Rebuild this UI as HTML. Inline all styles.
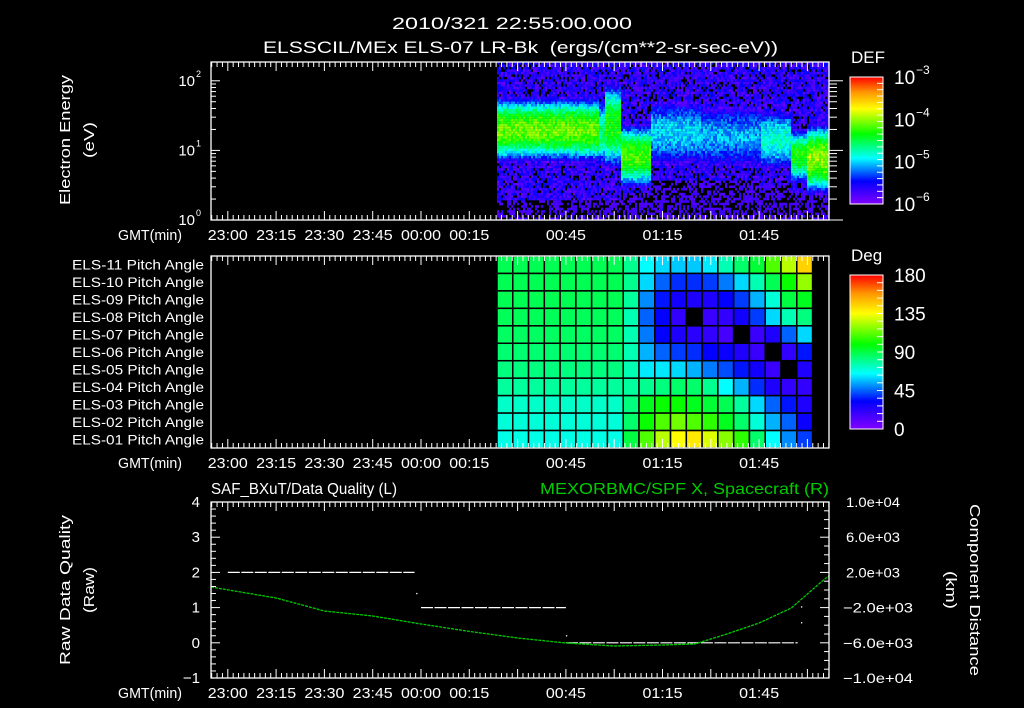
<!DOCTYPE html>
<html><head><meta charset="utf-8"><style>
html,body{margin:0;padding:0;background:#000;}
svg{display:block;font-family:"Liberation Sans",sans-serif;}
text{fill:#fff;}
</style></head><body>
<svg id="s" width="1024" height="708" viewBox="0 0 1024 708" xmlns="http://www.w3.org/2000/svg">
<rect width="1024" height="708" fill="#000"/>
<text x="392" y="29" font-size="17" textLength="240" lengthAdjust="spacingAndGlyphs">2010/321 22:55:00.000</text>
<text x="263" y="53" font-size="17" textLength="515" lengthAdjust="spacingAndGlyphs" xml:space="preserve">ELSSCIL/MEx ELS-07 LR-Bk  (ergs/(cm**2-sr-sec-eV))</text>
<g id="spec"></g>
<g id="pitch"></g>
<g id="bottom"></g>
<g id="axes"></g>
</svg>
<script>
// ---------- data ----------
const timeTickLabels = ["23:00","23:15","23:30","23:45","00:00","00:15","00:45","01:15","01:45"];
const timeTickMinutes = [-60,-45,-30,-15,0,15,45,75,105];
// spectrogram segments
const segStart = [23.6, 54.7, 57.1, 61.8, 71.1, 86.6, 105.3, 114.6, 119.3];
const segCenterLogE = [1.30, 1.25, 1.35, 0.92, 1.25, 1.2, 1.15, 0.92, 0.88];
const segPeakLogDEF = [-4.1, -4.6, -4.3, -4.2, -5.0, -5.1, -4.8, -4.3, -4.0];
const segWidth = [0.36, 0.42, 0.5, 0.36, 0.5, 0.5, 0.42, 0.32, 0.38];
const segFloorLogE = [0.3, 0.3, 0.3, 0.4, 0.55, 0.55, 0.5, 0.4, 0.35];
// pitch angles (deg), rows ELS-11 .. ELS-01, -1 = no data
const pitchRows = ["ELS-11","ELS-10","ELS-09","ELS-08","ELS-07","ELS-06","ELS-05","ELS-04","ELS-03","ELS-02","ELS-01"];
const pitchStart = 23.6, pitchStep = 4.9;
const pitchValues = [
 [88,88,88,88,88,88,88,88,80,65,60,58,58,62,75,85,92,110,125,145],
 [88,88,88,88,88,88,88,88,80,60,45,38,38,40,48,60,75,88,100,120],
 [88,88,88,88,88,88,88,88,78,50,35,28,25,25,32,40,55,70,90,95],
 [87,87,87,87,87,87,87,87,75,45,32,20,-1,18,20,28,40,60,75,82],
 [86,86,86,86,86,86,86,86,75,48,32,25,22,20,15,-1,18,25,45,60],
 [84,84,84,84,84,84,84,84,75,55,45,40,38,32,30,25,18,-1,20,35],
 [82,82,82,82,82,82,82,82,75,62,62,60,55,48,42,35,28,18,-1,25],
 [78,78,78,78,78,78,78,78,78,80,82,85,85,80,65,55,38,25,20,20],
 [72,72,72,72,72,72,72,72,82,95,100,100,95,92,88,78,60,45,35,25],
 [70,70,70,70,70,70,70,70,85,100,110,115,110,105,95,85,70,55,45,30],
 [68,68,68,68,68,68,68,68,90,110,125,135,140,130,118,105,85,65,50,40]
];
// bottom panel
const qualSegStart = [-60, 0, 45];
const qualSegEnd = [-2, 45, 117];
const qualSegValue = [2, 1, 0];
const qualDotMin = [-1.5, 45, 118, 118];
const qualDotVal = [1.4, 0.2, 1.02, 0.57];
const posMinutes = [-65.3,-45,-30,-15,0,15,30,45,60,75,85,95,105,115,125,126.7];
const posKm = [340,-910,-2390,-2950,-3860,-4700,-5450,-6020,-6360,-6250,-6140,-5000,-3750,-2050,1140,1600];

// ---------- helpers ----------
const NS="http://www.w3.org/2000/svg";
const X0=211, X1=829;
function xOf(m){return 421+m*3.22;}
function el(tag,attrs,parent){const e=document.createElementNS(NS,tag);for(const k in attrs)e.setAttribute(k,attrs[k]);parent.appendChild(e);return e;}
const stops=[[0,130,0,255],[0.18,0,0,255],[0.36,0,255,255],[0.55,0,255,0],[0.75,255,255,0],[0.88,255,150,0],[1,255,0,0]];
function cmap(t){t=Math.max(0,Math.min(1,t));for(let i=1;i<stops.length;i++){if(t<=stops[i][0]){const a=stops[i-1],b=stops[i];const f=(t-a[0])/(b[0]-a[0]);return `rgb(${Math.round(a[1]+f*(b[1]-a[1]))},${Math.round(a[2]+f*(b[2]-a[2]))},${Math.round(a[3]+f*(b[3]-a[3]))})`;}}return "rgb(255,0,0)";}
function speckle(i,j){let h=(i*374761393+j*668265263)>>>0;h=((h^(h>>>13))*1274126177)>>>0;return ((h^(h>>>16))>>>0)/4294967296;}
function fit(t,w){t.setAttribute('textLength',w);t.setAttribute('lengthAdjust','spacingAndGlyphs');}

// ---------- spectrogram ----------
const spec=document.getElementById('spec');
const SY0=62, SY1=220, dec=(SY1-SY0)/2.27;
function yE(l){return SY1-l*dec;}
const nb=64, bh=(SY1-SY0)/nb;
for(let xi=497, ci=0; xi<X1; xi+=2, ci++){
  const m=(xi-421)/3.22;
  let s=0; for(let k=0;k<segStart.length;k++) if(m>=segStart[k]) s=k;
  for(let b=0;b<nb;b++){
    const le=(b+0.5)/nb*2.27;
    const r=speckle(ci,b);
    const d=(le-segCenterLogE[s])/segWidth[s];
    let v=segPeakLogDEF[s]-1.0*d*d+(r-0.5)*0.4;
    let bg;
    if(le<segFloorLogE[s]) bg = r<0.5 ? -7 : -5.98+r*0.3;
    else bg = r<0.15 ? -7 : -5.97+r*0.55;
    v=Math.max(v,bg);
    if(v<-6) continue;
    const rc=el('rect',{x:xi,y:(SY1-(b+1)*bh).toFixed(2),width:2.1,height:(bh+0.1).toFixed(2),fill:cmap((v+6)/3)},spec);
    
    
  }
}

// ---------- pitch grid ----------
const pitch=document.getElementById('pitch');
const PY0=256, PY1=448, rh=(PY1-PY0)/pitchRows.length;
pitchValues.forEach((row,r)=>{
  row.forEach((v,c)=>{
    const xa=xOf(pitchStart+c*pitchStep), xb=xOf(pitchStart+(c+1)*pitchStep);
    const rc=el('rect',{x:xa.toFixed(2),y:(PY0+r*rh).toFixed(2),width:(xb-xa).toFixed(2),height:rh.toFixed(2),fill:v<0?'#000':cmap(v/180),stroke:'#000','stroke-width':1.5},pitch);
    
    
  });
  const t=el('text',{x:72,y:(PY0+(r+0.5)*rh+5).toFixed(1),'font-size':14},pitch);
  t.textContent=pitchRows[r]+" Pitch Angle";
  fit(t,132);
  
  
});

// ---------- bottom panel ----------
const bot=document.getElementById('bottom');
const BY0=502, BY1=678;
function yL(v){return BY1-(v+1)*(BY1-BY0)/5;}
function yR(v){return BY1-(v+1e4)*(BY1-BY0)/2e4;}
for(let i=0;i<qualSegStart.length;i++){
  const l=el('line',{x1:xOf(qualSegStart[i]),x2:xOf(qualSegEnd[i]),y1:yL(qualSegValue[i]),y2:yL(qualSegValue[i]),stroke:'#fff','stroke-width':1.2,'stroke-dasharray':'12 1.5'},bot);
  
  
}
for(let i=0;i<qualDotMin.length;i++){
  const d=el('rect',{x:xOf(qualDotMin[i]),y:yL(qualDotVal[i])-0.6,width:1.3,height:1.3,fill:'#fff'},bot);
  
  
}
const pl=el('polyline',{points:posMinutes.map((m,i)=>Math.max(X0,xOf(m)).toFixed(1)+","+yR(posKm[i]).toFixed(1)).join(" "),fill:'none',stroke:'#0c0','stroke-width':1.3,'stroke-dasharray':'3 1'},bot);



// ---------- axes ----------
const ax=document.getElementById('axes');
function frame(y0,y1,name){
  const r=el('rect',{x:X0,y:y0,width:X1-X0,height:y1-y0,fill:'none',stroke:'#fff','stroke-width':1.3},ax);
  
  
  for(let m=-65;m<=127;m+=5/3){
    const x=xOf(m); if(x<X0||x>X1) continue;
    const major=Math.abs(Math.round(m/15)*15-m)<0.01;
    const L=major?9:5;
    el('line',{x1:x,x2:x,y1:y0,y2:y0+L,stroke:'#fff','stroke-width':1},ax);
    el('line',{x1:x,x2:x,y1:y1,y2:y1-L,stroke:'#fff','stroke-width':1},ax);
  }
  const g=el('text',{x:118,y:y1+20,'font-size':15},ax);
  g.textContent="GMT(min)";
  fit(g,64);
  
  
  timeTickLabels.forEach((lb,i)=>{
    const t=el('text',{x:xOf(timeTickMinutes[i])-20,y:y1+20,'font-size':15},ax);
    t.textContent=lb;
    fit(t,40);
    
    
  });
}
frame(SY0,SY1,'spectrogram-frame');
frame(PY0,PY1,'pitch-frame');
frame(BY0,BY1,'line-panel-frame');
// energy axis
for(let d=0;d<=2;d++){
  for(let k=1;k<10;k++){
    const l=d+Math.log10(k); if(l>2.27) break;
    const y=yE(l), L=k==1?9:5;
    el('line',{x1:X0,x2:X0+L,y1:y,y2:y,stroke:'#fff'},ax);
    el('line',{x1:X1,x2:X1+(k==1?14:8),y1:y,y2:y,stroke:'#fff'},ax);
  }
  const t=el('text',{x:195,y:yE(d)+5,'font-size':15,'text-anchor':'end'},ax);
  t.textContent="10";
  
  
  const sp=el('text',{x:196,y:yE(d)-4,'font-size':9},ax);
  sp.textContent=String(d);
}
function vtitle(x,y,txt,name,rot,w){
  const t=el('text',{x:x,y:y,'font-size':15,'text-anchor':'middle',transform:`rotate(${rot} ${x} ${y})`},ax);
  t.textContent=txt;
  if(w) fit(t,w);
  
  
}
vtitle(70,140,"Electron Energy","energy-axis-title",-90,130);
vtitle(94,140,"(eV)","energy-axis-unit",-90,36);
vtitle(70,590,"Raw Data Quality","left-axis-title",-90,150);
vtitle(94,590,"(Raw)","left-axis-unit",-90,46);
vtitle(970,590,"Component Distance","right-axis-title",90,172);
vtitle(946,590,"(km)","right-axis-unit",90,38);
// bottom left axis
for(let v=-1;v<=4.001;v+=0.2){
  const y=yL(v), maj=Math.abs(v-Math.round(v))<0.01;
  el('line',{x1:X0,x2:X0+(maj?9:5),y1:y,y2:y,stroke:'#fff'},ax);
  if(maj){
    const t=el('text',{x:200,y:y+5,'font-size':15,'text-anchor':'end'},ax);
    t.textContent=(Math.round(v)<0?"\u2212":"")+Math.abs(Math.round(v));
    
    
  }
}
const rLabels=["1.0e+04","6.0e+03","2.0e+03","\u22122.0e+03","\u22126.0e+03","\u22121.0e+04"];
for(let v=-10000;v<=10000;v+=1000){
  const y=yR(v), maj=(v+10000)%4000==0;
  el('line',{x1:X1,x2:X1-(maj?9:5),y1:y,y2:y,stroke:'#fff'},ax);
}
rLabels.forEach((lb,i)=>{
  const neg=lb[0]=="\u2212";
  const t=el('text',{x:neg?843:846,y:yR(10000-i*4000)+5,'font-size':14},ax);
  t.textContent=lb;
  fit(t,neg?70:54);
  
  
});
const lt=el('text',{x:211,y:494,'font-size':16},ax);
lt.textContent="SAF_BXuT/Data Quality (L)";
fit(lt,186);


const rt=el('text',{x:540,y:494,'font-size':16,style:'fill:#0c0'},ax);
rt.textContent="MEXORBMC/SPF X, Spacecraft (R)";
fit(rt,289);


// colorbars
function cbar(y0,y1,title,labels,name){
  const defs=el('defs',{},ax);
  const gid=name+'-grad';
  const lg=el('linearGradient',{id:gid,x1:0,y1:1,x2:0,y2:0},defs);
  stops.forEach(s=>el('stop',{offset:s[0],'stop-color':`rgb(${s[1]},${s[2]},${s[3]})`},lg));
  const r=el('rect',{x:850,y:y0,width:33,height:y1-y0,fill:`url(#${gid})`,stroke:'#fff','stroke-width':1},ax);
  
  
  const t=el('text',{x:851,y:y0-14,'font-size':17},ax);
  t.textContent=title;
  
  
  labels.forEach((lb,i)=>{
    const y=y1-(y1-y0)*i/(labels.length-1);
    const tt=el('text',{x:894,y:y+7,'font-size':19},ax);
    tt.textContent=lb[0];
    
    
    if(lb[1]){const sp=el('text',{x:916,y:y-3,'font-size':12},ax);sp.textContent=lb[1];}
  });
  for(let k=1;k<20;k++){const y=y0+(y1-y0)*k/20;el('line',{x1:883,x2:877,y1:y,y2:y,stroke:'#fff'},ax);}
}
cbar(77,204,"DEF",[["10","\u22126"],["10","\u22125"],["10","\u22124"],["10","\u22123"]],'def-colorbar');
cbar(275,429,"Deg",[["0"],["45"],["90"],["135"],["180"]],'deg-colorbar');
</script>
</body></html>
